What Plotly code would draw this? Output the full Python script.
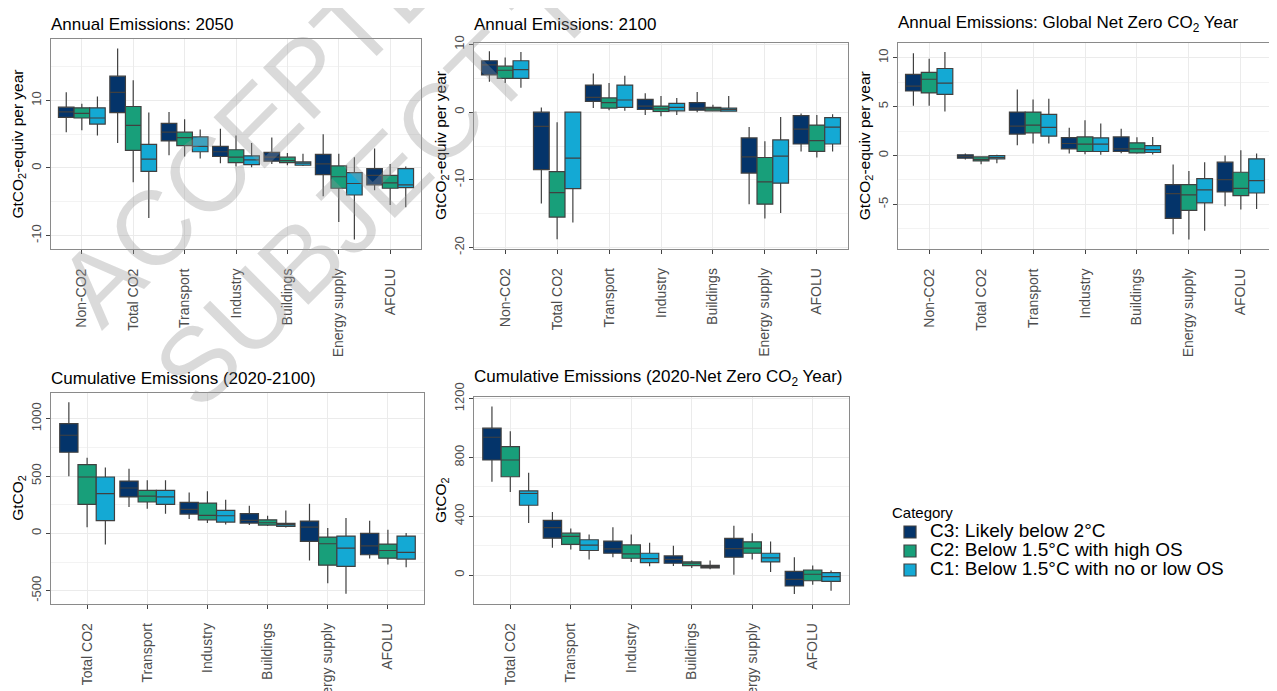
import plotly.graph_objects as go

# the page body adds an 8px margin, so the figure is drawn 8px smaller and every
# reference pixel position is shifted by OFF
OFF = 8
W, H = 1277 - OFF, 691 - OFF


def px(x):
    return (x - OFF) / W


def py(y):
    return 1 - (y - OFF) / H


cats_annual = ["Non-CO2", "Total CO2", "Transport", "Industry", "Buildings", "Energy supply", "AFOLU"]
cats_cum = ["Total CO2", "Transport", "Industry", "Buildings", "Energy supply", "AFOLU"]

series_names = ["C3: Likely below 2°C", "C2: Below 1.5°C with high OS", "C1: Below 1.5°C with no or low OS"]
series_colors = ["#04346a", "#189f7a", "#14a9d4"]

# each tuple: (lower whisker, q1, median, q3, upper whisker), one per category
ann2050_c3 = [(5.3, 7.5, 8.3, 9.0, 11.2), (3.7, 8.2, 11.2, 13.6, 17.7), (1.9, 4.0, 5.3, 6.6, 8.3),
              (0.7, 1.7, 2.4, 3.2, 5.8), (0.6, 1.0, 1.6, 2.3, 4.5), (-4.2, -1.0, 0.6, 2.0, 5.0),
              (-3.3, -2.5, -1.1, -0.1, 2.9)]
ann2050_c2 = [(5.6, 7.4, 8.1, 8.9, 9.5), (-2.1, 2.6, 6.3, 9.1, 13.0), (1.7, 3.3, 4.5, 5.3, 7.2),
              (0.2, 0.8, 1.6, 2.7, 4.8), (0.4, 0.8, 1.1, 1.6, 2.2), (-8.0, -3.0, -1.3, 0.3, 2.1),
              (-5.5, -3.0, -2.2, -1.1, 0.6)]
ann2050_c1 = [(4.8, 6.5, 7.4, 8.9, 10.6), (-7.4, -0.5, 1.3, 3.5, 8.2), (1.4, 2.4, 3.2, 4.6, 5.7),
              (0.1, 0.5, 1.2, 1.8, 3.7), (0.3, 0.4, 0.7, 0.9, 2.1), (-10.6, -4.0, -2.3, -0.7, 1.6),
              (-5.8, -2.9, -2.5, -0.1, 0.2)]

ann2100_c3 = [(4.5, 5.5, 7.0, 7.6, 9.0), (-13.5, -8.5, -2.1, 0.0, 0.7), (0.6, 1.6, 2.2, 4.0, 5.7),
              (-0.4, 0.4, 0.9, 1.9, 2.8), (0.0, 0.3, 0.6, 1.4, 3.0), (-13.6, -9.0, -6.6, -3.8, -2.2),
              (-5.8, -4.7, -2.5, -0.5, -0.2)]
ann2100_c2 = [(4.3, 5.0, 6.2, 6.8, 8.1), (-18.8, -15.5, -11.9, -8.8, -1.5), (0.3, 0.6, 1.4, 2.1, 4.3),
              (-0.6, 0.1, 0.5, 0.9, 2.4), (0.1, 0.2, 0.5, 0.7, 1.1), (-15.7, -13.6, -10.3, -6.7, -4.3),
              (-6.7, -5.8, -4.2, -1.9, -0.4)]
ann2100_c1 = [(3.6, 5.0, 6.3, 7.6, 8.9), (-16.3, -11.3, -6.8, 0.0, 0.0), (0.2, 0.7, 1.8, 4.0, 5.4),
              (-0.4, 0.2, 0.7, 1.3, 2.1), (0.05, 0.15, 0.4, 0.6, 2.4), (-14.9, -10.5, -6.5, -4.1, -0.7),
              (-5.8, -4.7, -2.2, -0.8, -0.3)]

annnz_c3 = [(5.1, 6.6, 7.1, 8.3, 10.45), (-0.4, -0.27, -0.1, 0.07, 0.2), (1.06, 2.19, 3.0, 4.44, 6.76),
            (0.2, 0.68, 1.23, 1.84, 2.84), (0.24, 0.41, 0.68, 1.9, 2.73), (-8.06, -6.42, -3.9, -2.97, -0.92),
            (-5.19, -3.72, -2.46, -0.68, 0.0)]
annnz_c2 = [(5.1, 6.4, 7.8, 8.5, 9.9), (-0.9, -0.55, -0.4, -0.14, -0.07), (1.23, 2.32, 3.1, 4.44, 5.74),
            (0.14, 0.41, 1.16, 1.9, 3.62), (0.17, 0.27, 0.68, 1.3, 1.88), (-8.6, -5.6, -4.03, -2.97, -1.57),
            (-5.53, -4.1, -3.35, -1.71, 0.55)]
annnz_c1 = [(4.5, 6.25, 7.4, 8.9, 10.6), (-0.8, -0.34, -0.2, 0.0, 0.07), (1.23, 1.98, 2.87, 4.2, 5.8),
            (0.07, 0.41, 1.16, 1.81, 3.28), (0.1, 0.31, 0.61, 1.02, 1.9), (-7.69, -4.85, -3.52, -2.36, -0.68),
            (-5.47, -3.83, -2.56, -0.34, 0.2)]

cum2100_c3 = [(498, 708, 856, 958, 1145), (230, 318, 396, 457, 565), (125, 169, 210, 271, 358),
              (73, 90, 114, 172, 242), (-236, -70, 55, 108, 259), (-218, -186, -108, 0, 111)]
cum2100_c2 = [(55, 253, 492, 600, 661), (216, 274, 326, 376, 463), (90, 119, 157, 265, 367),
              (64, 73, 93, 119, 154), (-434, -277, -90, -32, 47), (-271, -216, -149, -93, 32)]
cum2100_c1 = [(-96, 111, 347, 492, 574), (172, 253, 318, 376, 463), (79, 99, 154, 201, 294),
              (52, 61, 76, 87, 201), (-527, -288, -128, -23, 134), (-294, -224, -166, -23, 3)]

cumnz_c3 = [(635, 783, 938, 1000, 1148), (185, 251, 322, 372, 429), (121, 148, 178, 231, 326),
            (62, 80, 107, 130, 199), (2, 121, 180, 249, 336), (-130, -75, -30, 25, 121)]
cumnz_c2 = [(566, 669, 783, 874, 979), (174, 208, 263, 285, 317), (89, 114, 144, 205, 276),
            (48, 64, 80, 89, 98), (105, 148, 183, 226, 285), (-66, -39, 5, 34, 64)]
cumnz_c1 = [(354, 475, 555, 573, 696), (105, 167, 203, 240, 276), (59, 84, 112, 148, 219),
            (39, 48, 57, 66, 98), (21, 89, 116, 148, 228), (-107, -43, -11, 16, 30)]

FONT = "Liberation Sans, Arial, sans-serif"
ytitle_ann = "GtCO<sub>2</sub>-equiv per year"
ytitle_cum = "GtCO<sub>2</sub>"

# panel: data, categories, title, y title, box in px (x0, x1, top, bottom), y range, ticks, minor step
panels = [
    dict(data=[ann2050_c3, ann2050_c2, ann2050_c1], cats=cats_annual, title="Annual Emissions: 2050",
         ytitle=ytitle_ann, box=(51, 421, 39, 249), yr=[-12.0, 19.1], ticks=[-10, 0, 10], minor=5),
    dict(data=[ann2100_c3, ann2100_c2, ann2100_c1], cats=cats_annual, title="Annual Emissions: 2100",
         ytitle=ytitle_ann, box=(474, 848, 42.5, 248.5), yr=[-20.15, 10.3], ticks=[-20, -10, 0, 10], minor=5),
    dict(data=[annnz_c3, annnz_c2, annnz_c1], cats=cats_annual,
         title="Annual Emissions: Global Net Zero CO<sub>2</sub> Year",
         ytitle=ytitle_ann, box=(898, 1272, 42.5, 249), yr=[-9.56, 11.56], ticks=[-5, 0, 5, 10], minor=2.5),
    dict(data=[cum2100_c3, cum2100_c2, cum2100_c1], cats=cats_cum, title="Cumulative Emissions (2020-2100)",
         ytitle=ytitle_cum, box=(51, 424, 392.5, 603.5), yr=[-611, 1229], ticks=[-500, 0, 500, 1000], minor=250),
    dict(data=[cumnz_c3, cumnz_c2, cumnz_c1], cats=cats_cum,
         title="Cumulative Emissions (2020-Net Zero CO<sub>2</sub> Year)",
         ytitle=ytitle_cum, box=(474, 849, 397, 603.5), yr=[-194, 1212], ticks=[0, 400, 800, 1200], minor=200),
]

fig = go.Figure()
annotations = []
layout_axes = {}

for i, p in enumerate(panels):
    n = i + 1
    sfx = "" if n == 1 else str(n)
    for j, series in enumerate(p["data"]):
        lo, q1, med, q3, hi = zip(*series)
        # legend label drawn bigger than the legend font so the rows stay tight
        label = '<span style="font-size:19px">' + series_names[j] + "</span>"
        fig.add_trace(go.Box(
            x=p["cats"], lowerfence=list(lo), q1=list(q1), median=list(med), q3=list(q3), upperfence=list(hi),
            name=label, legendgroup=series_names[j], offsetgroup=str(j), showlegend=(i == 0),
            fillcolor=series_colors[j], line=dict(color="#404040", width=1.2),
            whiskerwidth=0, xaxis="x" + sfx, yaxis="y" + sfx,
        ))
    x0, x1, top, bot = p["box"]
    layout_axes["xaxis" + sfx] = dict(
        domain=[px(x0), px(x1)], anchor="y" + sfx, type="category", automargin=False,
        range=[-0.6, len(p["cats"]) - 0.4], tickangle=-90, ticklabelstandoff=9,
        showline=True, mirror=True, linecolor="#8a8a8a", linewidth=1,
        ticks="outside", ticklen=4, tickcolor="#444444",
        showgrid=True, gridcolor="#ebebeb", gridwidth=1,
        tickfont=dict(size=14, color="#4d4d4d", family=FONT), zeroline=False,
    )
    layout_axes["yaxis" + sfx] = dict(
        domain=[py(bot), py(top)], anchor="x" + sfx, range=p["yr"], automargin=False,
        tickvals=p["ticks"], ticktext=[str(t) for t in p["ticks"]], tickangle=-90,
        showline=True, mirror=True, linecolor="#8a8a8a", linewidth=1,
        ticks="outside", ticklen=4, tickcolor="#444444",
        showgrid=True, gridcolor="#ebebeb", gridwidth=1, zeroline=False,
        minor=dict(tick0=0, dtick=p["minor"], showgrid=True, gridcolor="#f3f3f3", gridwidth=0.7, ticks=""),
        tickfont=dict(size=13, color="#4d4d4d", family=FONT),
        title=dict(text=p["ytitle"], font=dict(size=15.5, color="black", family=FONT), standoff=1),
    )
    ty = 24 if i < 3 else 378
    annotations.append(dict(
        text=p["title"], x=px(x0 - 2), y=py(ty), xref="paper", yref="paper",
        xanchor="left", yanchor="middle", showarrow=False,
        font=dict(size=17, color="black", family=FONT),
    ))

# draft watermark over the figure
wm_font = dict(size=105, color="rgba(150,150,150,0.35)", family=FONT)
annotations.append(dict(
    text="ACCEPTED VERSION", x=px(456), y=py(-74), xref="paper", yref="paper",
    xanchor="center", yanchor="middle", showarrow=False, textangle=-45, font=wm_font,
))
annotations.append(dict(
    text="SUBJECT TO FINAL EDITS", x=px(636), y=py(-74), xref="paper", yref="paper",
    xanchor="center", yanchor="middle", showarrow=False, textangle=-45, font=wm_font,
))

fig.update_layout(
    template="none",
    width=W, height=H, margin=dict(l=0, r=0, t=0, b=0),
    paper_bgcolor="white", plot_bgcolor="white",
    font=dict(family=FONT, color="black"),
    boxmode="group", boxgap=0.09, boxgroupgap=0,
    annotations=annotations,
    legend=dict(
        title=dict(text="Category", font=dict(size=15, family=FONT, color="black")),
        font=dict(size=12, family=FONT, color="black"),
        x=px(890), y=py(498), xanchor="left", yanchor="top",
        bgcolor="rgba(0,0,0,0)", tracegroupgap=0,
    ),
    **layout_axes,
)

fig.write_html("out.html")
